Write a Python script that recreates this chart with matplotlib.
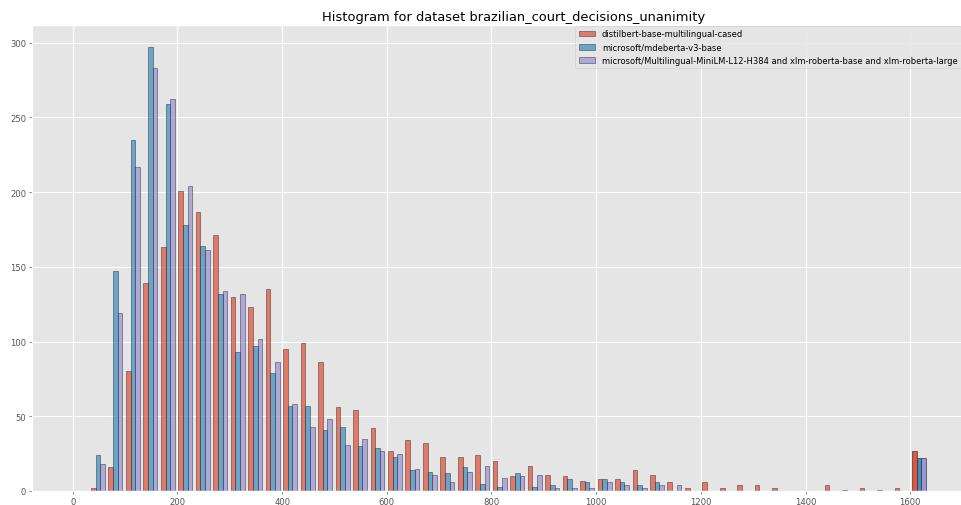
import numpy as np
import matplotlib
matplotlib.use('Agg')
import matplotlib.pyplot as plt
from matplotlib.ticker import MultipleLocator

plt.style.use('ggplot')

# bin layout
bin_start = 31.4
bin_end = 1633.6
n_bins = 48

labels = ['distilbert-base-multilingual-cased',
          'microsoft/mdeberta-v3-base',
          'microsoft/Multilingual-MiniLM-L12-H384 and xlm-roberta-base and xlm-roberta-large']

# counts per bin for each model
distilbert = [2, 16, 80, 139, 163, 201, 187, 171, 130, 123,
              135, 95, 99, 86, 56, 54, 42, 27, 34, 32,
              23, 23, 24, 20, 10, 17, 11, 10, 7, 8,
              8, 14, 11, 6, 2, 6, 2, 4, 4, 2,
              0, 0, 4, 1, 2, 1, 2, 27]
mdeberta = [24, 147, 235, 297, 259, 178, 164, 132, 93, 97,
            79, 57, 57, 41, 43, 30, 29, 23, 14, 13,
            12, 16, 5, 3, 12, 3, 4, 8, 6, 8,
            6, 4, 6, 0, 0, 0, 0, 0, 0, 0,
            0, 0, 0, 0, 0, 0, 0, 22]
minilm_xlmr = [18, 119, 217, 283, 262, 204, 161, 134, 132, 102,
               86, 58, 43, 48, 31, 35, 27, 25, 15, 11,
               6, 13, 17, 9, 10, 11, 2, 2, 2, 6,
               4, 2, 4, 4, 0, 0, 0, 0, 0, 0,
               0, 0, 0, 0, 0, 0, 0, 22]

edges = np.linspace(bin_start, bin_end, n_bins + 1)
centers = (edges[:-1] + edges[1:]) / 2

fig = plt.figure(figsize=(9.61, 5.06), dpi=100)
# axes runs a bit past the right edge, like the cropped original
ax = fig.add_axes([32 / 961, 14 / 506, 964 / 961, 466 / 506])

counts, bins, containers = ax.hist([centers, centers, centers], bins=edges,
                                   weights=[distilbert, mdeberta, minilm_xlmr],
                                   label=labels, alpha=0.7,
                                   edgecolor='#222222', linewidth=0.45)
# last bin is drawn stronger in the reference
for c in containers:
    c.patches[-1].set_alpha(0.92)

ax.set_xlim(-78, 1764)
ax.xaxis.set_major_locator(MultipleLocator(200))
ax.yaxis.set_major_locator(MultipleLocator(50))
ax.set_title('Histogram for dataset brazilian_court_decisions_unanimity',
             fontsize=9.4, pad=3.7)
ax.tick_params(labelsize=6.1, length=2.1, pad=2.1, width=0.5)
ax.legend(loc='upper right', fontsize=6.0, borderaxespad=0,
          bbox_to_anchor=(961 / 961, 1 - 27 / 506),
          bbox_transform=fig.transFigure)

plt.savefig('out.png', dpi=100)
